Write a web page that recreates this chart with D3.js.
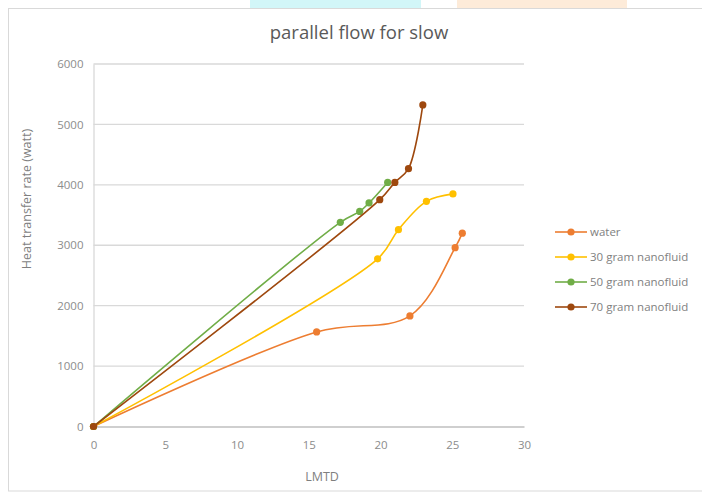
<!DOCTYPE html>
<html>
<head>
<meta charset="utf-8">
<script src="https://cdn.jsdelivr.net/npm/d3@7"></script>
<style>
  html, body { margin: 0; padding: 0; background: #fff; }
  svg { display: block; }
  text { font-family: "Open Sans", "Liberation Sans", sans-serif; }
</style>
</head>
<body>
<svg id="chart" width="702" height="493"></svg>
<script>
// Heat transfer rate against LMTD, parallel flow at slow rate
const seriesNames = ["water", "30 gram nanofluid", "50 gram nanofluid", "70 gram nanofluid"];
const seriesColors = ["#ED7D31", "#FFC000", "#70AD47", "#9E480E"];

const waterLMTD = [0, 15.55, 22.05, 25.2, 25.7];
const waterQ    = [0, 1565, 1831, 2960, 3200];

const gram30LMTD = [0, 19.8, 21.25, 23.2, 25.05];
const gram30Q    = [0, 2775, 3257, 3727, 3850];

const gram50LMTD = [0, 17.2, 18.55, 19.2, 20.5];
const gram50Q    = [0, 3380, 3560, 3700, 4040];

const gram70LMTD = [0, 19.95, 21.0, 21.95, 22.95];
const gram70Q    = [0, 3755, 4040, 4268, 5322];

const xTicks = [0, 5, 10, 15, 20, 25, 30];
const yTicks = [0, 1000, 2000, 3000, 4000, 5000, 6000];

const seriesX = [waterLMTD, gram30LMTD, gram50LMTD, gram70LMTD];
const seriesY = [waterQ, gram30Q, gram50Q, gram70Q];

const svg = d3.select("#chart");

// faint coloured strips along the top edge
svg.append("rect").attr("x", 250).attr("y", 0).attr("width", 171).attr("height", 8).attr("fill", "#d2f6f8");
svg.append("rect").attr("x", 457).attr("y", 0).attr("width", 170).attr("height", 8).attr("fill", "#fdebd9");

// chart frame
svg.append("rect")
  .attr("x", 8.5).attr("y", 8.5).attr("width", 700).attr("height", 482.5)
  .attr("fill", "#fff").attr("stroke", "#d9d9d9").attr("stroke-width", 1);

const plot = { left: 93.5, right: 524, top: 64, bottom: 426.5 };

const x = d3.scaleLinear().domain([0, 30]).range([plot.left, plot.right]);
const y = d3.scaleLinear().domain([0, 6000]).range([plot.bottom, plot.top]);

// horizontal gridlines
svg.append("g")
  .selectAll("line")
  .data(yTicks.filter(d => d > 0))
  .join("line")
  .attr("x1", plot.left).attr("x2", plot.right)
  .attr("y1", d => y(d)).attr("y2", d => y(d))
  .attr("stroke", "#d9d9d9").attr("stroke-width", 1.3);

// y axis
const yAxis = svg.append("g")
  .attr("transform", `translate(${plot.left},0)`)
  .call(d3.axisLeft(y).tickValues(yTicks).tickSize(0).tickPadding(10).tickFormat(d3.format("d")));
yAxis.select(".domain").attr("stroke", "#d9d9d9").attr("stroke-width", 1.3);
yAxis.selectAll("text").attr("fill", "#8c8c8c").style("font-size", "11.5px");

// x axis
const xAxis = svg.append("g")
  .attr("transform", `translate(0,${plot.bottom})`)
  .call(d3.axisBottom(x).tickValues(xTicks).tickSize(0).tickPadding(14).tickFormat(d3.format("d")));
xAxis.select(".domain").attr("stroke", "#bfbfbf").attr("stroke-width", 1.3);
xAxis.selectAll("text").attr("fill", "#8c8c8c").style("font-size", "11.5px");

// titles
svg.append("text")
  .attr("x", 359).attr("y", 39)
  .attr("text-anchor", "middle")
  .attr("fill", "#595959")
  .style("font-size", "18.5px")
  .text("parallel flow for slow");

svg.append("text")
  .attr("x", 322).attr("y", 477)
  .attr("dy", "0.35em")
  .attr("text-anchor", "middle")
  .attr("fill", "#7f7f7f")
  .style("font-size", "12.5px")
  .text("LMTD");

svg.append("text")
  .attr("transform", "translate(27,199) rotate(-90)")
  .attr("dy", "0.35em")
  .attr("text-anchor", "middle")
  .attr("fill", "#7f7f7f")
  .style("font-size", "12.5px")
  .text("Heat transfer rate (watt)");

// smoothed series lines with markers
const line = d3.line()
  .x(d => x(d[0]))
  .y(d => y(d[1]))
  .curve(d3.curveCatmullRom.alpha(0.5));

seriesNames.forEach((name, i) => {
  const pts = seriesX[i].map((v, j) => [v, seriesY[i][j]]);
  const g = svg.append("g");
  g.append("path")
    .datum(pts)
    .attr("d", line)
    .attr("fill", "none")
    .attr("stroke", seriesColors[i])
    .attr("stroke-width", 1.6);
  g.selectAll("circle")
    .data(pts)
    .join("circle")
    .attr("cx", d => x(d[0]))
    .attr("cy", d => y(d[1]))
    .attr("r", 3.6)
    .attr("fill", seriesColors[i]);
});

// legend
const legend = svg.append("g");
seriesNames.forEach((name, i) => {
  const ly = 232 + i * 25;
  legend.append("line")
    .attr("x1", 555).attr("x2", 587).attr("y1", ly).attr("y2", ly)
    .attr("stroke", seriesColors[i]).attr("stroke-width", 1.6);
  legend.append("circle")
    .attr("cx", 571).attr("cy", ly).attr("r", 3.6)
    .attr("fill", seriesColors[i]);
  legend.append("text")
    .attr("x", 590).attr("y", ly)
    .attr("dy", "0.35em")
    .attr("fill", "#7f7f7f")
    .style("font-size", "11.5px")
    .text(name);
});
</script>
</body>
</html>
